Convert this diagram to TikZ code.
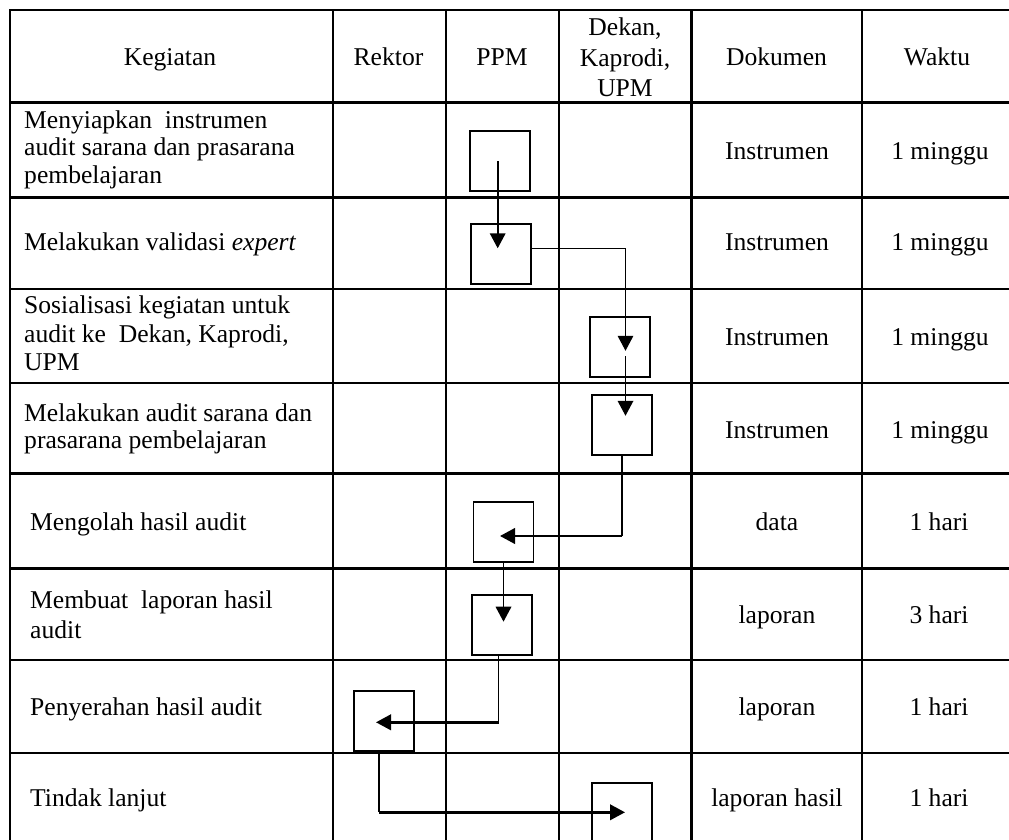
\documentclass[tikz,border=0pt]{standalone}
\usepackage{fontspec}
\setmainfont{Liberation Serif}
\usetikzlibrary{arrows.meta,calc}
\tikzset{
  hrule/.style={line width=2.4pt, line cap=rect},
  vrule/.style={line width=2.1pt, line cap=rect},
  box/.style={draw, line width=1.8pt, minimum width=60pt, minimum height=60pt, inner sep=0pt},
  txt/.style={inner sep=0pt, font=\fontsize{25.6}{27.5}\selectfont},
  vline/.style={line width=1.6pt},
  varr/.style={line width=1.9pt, -{Triangle[length=15pt,width=15.5pt]}},
  harr/.style={line width=2.4pt, -{Triangle[length=15pt,width=15.5pt]}},
}
\begin{document}
\begin{tikzpicture}[x=1pt,y=-1pt]
\useasboundingbox (0,0) rectangle (1009,840);
% table grid
\foreach \yy in {10,102.7,197.3,289,383,473.3,568.5,660,752.7,845}
  \draw[hrule] (10,\yy) -- (1012,\yy);
\foreach \xx in {10,332.7,446,559.3,691.5,862.3,1012}
  \draw[vrule] (\xx,10) -- (\xx,845);
% header
\node[txt, anchor=base] (hk) at (170,66) {Kegiatan};
\node[txt, anchor=base] (hr) at (388.5,66) {Rektor};
\node[txt, anchor=base] (hp) at (502,66) {PPM};
\node[txt, anchor=base, font=\fontsize{25.6}{30.5}\selectfont] (hd) at (625,35.7)
  {\begin{tabular}[t]{@{}c@{}}Dekan,\\Kaprodi,\\UPM\end{tabular}};
\node[txt, anchor=base] (hdo) at (776.5,66) {Dokumen};
\node[txt, anchor=base] (hw) at (937,66) {Waktu};
% rows: kegiatan
\node[txt, anchor=base west] (k1) at (24,128.3)
  {\begin{tabular}[t]{@{}l@{}}Menyiapkan~ instrumen\\audit sarana dan prasarana\\pembelajaran\end{tabular}};
\node[txt, anchor=base west] (k2) at (24,250) {Melakukan validasi \textit{expert}};
\node[txt, anchor=base west, font=\fontsize{25.6}{28.5}\selectfont] (k3) at (24,313.5)
  {\begin{tabular}[t]{@{}l@{}}Sosialisasi kegiatan untuk\\audit ke~ Dekan, Kaprodi,\\UPM\end{tabular}};
\node[txt, anchor=base west, font=\fontsize{25.6}{27}\selectfont] (k4) at (24,421.7)
  {\begin{tabular}[t]{@{}l@{}}Melakukan audit sarana dan\\prasarana pembelajaran\end{tabular}};
\node[txt, anchor=base west] (k5) at (30,530.7) {Mengolah hasil audit};
\node[txt, anchor=base west, font=\fontsize{25.6}{30}\selectfont] (k6) at (30,608.3)
  {\begin{tabular}[t]{@{}l@{}}Membuat~ laporan hasil\\audit\end{tabular}};
\node[txt, anchor=base west] (k7) at (30,715.5) {Penyerahan hasil audit};
\node[txt, anchor=base west] (k8) at (30,806.7) {Tindak lanjut};
% dokumen
\node[txt, anchor=base] (d1) at (777,159.5) {Instrumen};
\node[txt, anchor=base] (d2) at (777,250) {Instrumen};
\node[txt, anchor=base] (d3) at (777,345.5) {Instrumen};
\node[txt, anchor=base] (d4) at (777,438) {Instrumen};
\node[txt, anchor=base] (d5) at (777,530.7) {data};
\node[txt, anchor=base] (d6) at (777,623.3) {laporan};
\node[txt, anchor=base] (d7) at (777,715.5) {laporan};
\node[txt, anchor=base] (d8) at (777,806.7) {laporan hasil};
% waktu
\node[txt, anchor=base] (w1) at (940,159.5) {1 minggu};
\node[txt, anchor=base] (w2) at (940,250) {1 minggu};
\node[txt, anchor=base] (w3) at (940,345.5) {1 minggu};
\node[txt, anchor=base] (w4) at (940,438) {1 minggu};
\node[txt, anchor=base] (w5) at (939,530.7) {1 hari};
\node[txt, anchor=base] (w6) at (939,623.3) {3 hari};
\node[txt, anchor=base] (w7) at (939,715.5) {1 hari};
\node[txt, anchor=base] (w8) at (939,806.7) {1 hari};
% flow boxes
\node[box] (b1) at (499.7,161) {};
\node[box] (b2) at (501.3,254.3) {};
\node[box] (b3) at (620,346.8) {};
\node[box] (b4) at (622,424.8) {};
\node[box] (b5) at (503.5,531.7) {};
\node[box] (b6) at (502,624.7) {};
\node[box] (b7) at (384,720.7) {};
\node[box] (b8) at (621.7,812.7) {};
% connectors
\draw[varr] ($(b1.center)+(-2,0)$) -- ($(b1.center |- b2.center)+(-2,-6)$);
\draw[vline, -{Triangle[length=15pt,width=15.5pt]}] ($(b2.east)+(0,-6)$) -| ($(b3.center)+(5.5,4)$);
\draw[varr] ($(b3.center)+(5.5,9.2)$) -- ($(b4.center)+(3.5,-9)$);
\coordinate (k4c) at ($(b4.south |- b5.center)+(0,4.3)$);
\draw[vline] (b4.south) -- (k4c);
\draw[harr] (k4c) -- ($(b5.center)+(-3.5,4.3)$);
\draw[varr] (b5.south) -- ($(b5.south |- b6.center)+(0,-3)$);
\coordinate (k6c) at ($(b6.south |- b7.center)+(-3.5,1.6)$);
\draw[vline] ($(b6.south)+(-3.5,0)$) -- (k6c);
\draw[harr] (k6c) -- ($(b7.center)+(-8,1.6)$);
\coordinate (k7c) at ($(b7.south |- b8.center)+(-5,-0.4)$);
\draw[vline] ($(b7.south)+(-5,0)$) -- (k7c);
\draw[harr] (k7c) -- ($(b8.center)+(3.3,-0.4)$);
\end{tikzpicture}
\end{document}
